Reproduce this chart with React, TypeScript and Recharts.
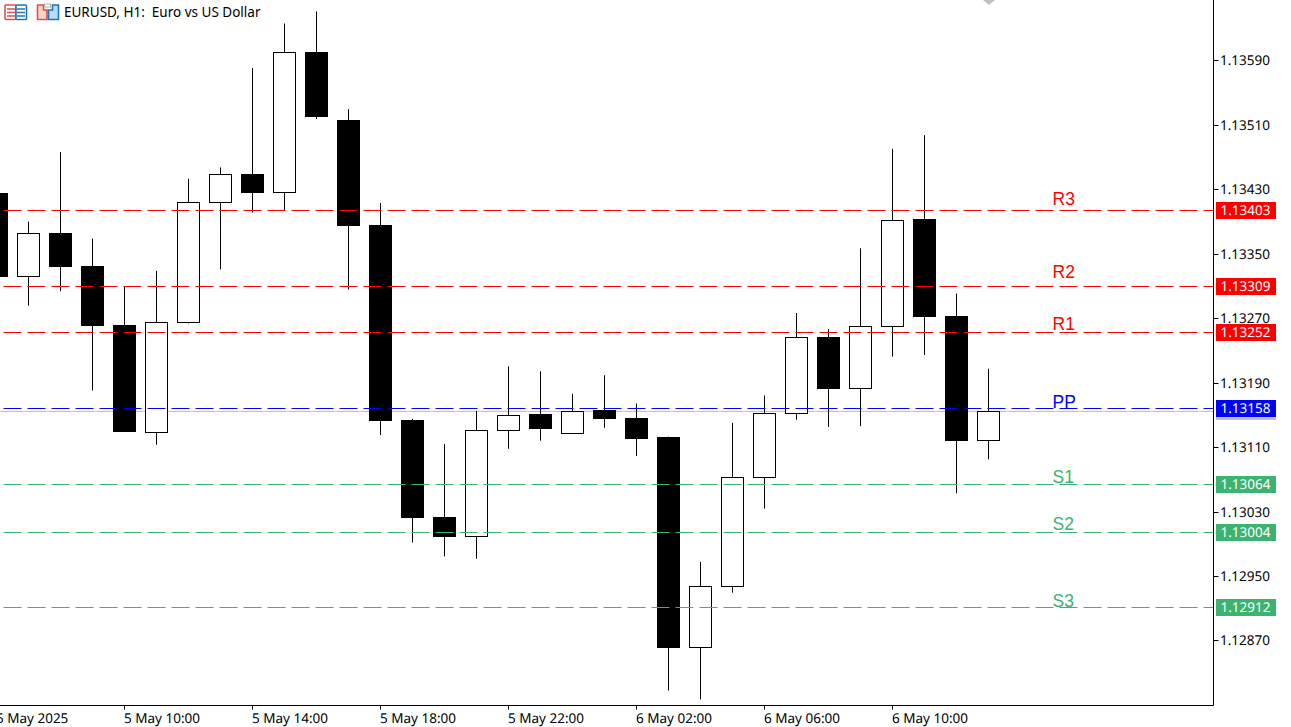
// App.tsx - EURUSD H1 candlesticks with pivot levels
import React from 'react';
import { ComposedChart, Bar, XAxis, YAxis, CartesianGrid, ReferenceLine, ReferenceDot } from 'recharts';

const times = [
  '5 May 2025', '5 May 07:00', '5 May 08:00', '5 May 09:00', '5 May 10:00', '5 May 11:00', '5 May 12:00', '5 May 13:00',
  '5 May 14:00', '5 May 15:00', '5 May 16:00', '5 May 17:00', '5 May 18:00', '5 May 19:00', '5 May 20:00', '5 May 21:00',
  '5 May 22:00', '5 May 23:00', '6 May 00:00', '6 May 01:00', '6 May 02:00', '6 May 03:00', '6 May 04:00', '6 May 05:00',
  '6 May 06:00', '6 May 07:00', '6 May 08:00', '6 May 09:00', '6 May 10:00', '6 May 11:00', '6 May 12:00', '6 May 13:00',
  '6 May 14:00', '6 May 15:00', '6 May 16:00', '6 May 17:00', '6 May 18:00', '6 May 19:00',
];

const opens = [
  1.13424, 1.13321, 1.13374, 1.13334, 1.13261, 1.13128, 1.13264, 1.13413, 1.13447, 1.13425, 1.13598,
  1.13514, 1.13384, 1.13143, 1.13023, 1.13, 1.13131, 1.1315, 1.13127, 1.13155, 1.13146, 1.13122,
  1.12862, 1.12938, 1.13073, 1.13152, 1.13246, 1.13183, 1.13259, 1.13391, 1.13272, 1.13118,
];
const highs = [
  1.13424, 1.13389, 1.13475, 1.13368, 1.13309, 1.13328, 1.13442, 1.13456, 1.13579, 1.13634, 1.13649,
  1.13528, 1.13412, 1.13145, 1.13114, 1.13155, 1.1321, 1.13204, 1.13176, 1.13199, 1.13164, 1.13123,
  1.12968, 1.1314, 1.13174, 1.13276, 1.13256, 1.13356, 1.13479, 1.13496, 1.133, 1.13207,
];
const lows = [
  1.13321, 1.13285, 1.13303, 1.1318, 1.13129, 1.13113, 1.13263, 1.1333, 1.134, 1.13403, 1.13516,
  1.13305, 1.13125, 1.12992, 1.12975, 1.12972, 1.13108, 1.13118, 1.13127, 1.13134, 1.13099, 1.12809,
  1.12798, 1.1293, 1.13034, 1.13144, 1.13135, 1.13136, 1.13222, 1.13224, 1.13053, 1.13095,
];
const closes = [
  1.13321, 1.13374, 1.13334, 1.1326, 1.13129, 1.13264, 1.13413, 1.13447, 1.13425, 1.13598, 1.13519,
  1.13384, 1.13143, 1.13023, 1.13, 1.13131, 1.13149, 1.13133, 1.13154, 1.13145, 1.13121, 1.12862,
  1.12938, 1.13073, 1.13152, 1.13246, 1.13183, 1.13259, 1.1339, 1.13272, 1.13118, 1.13154,
];

const priceTicks = [1.1359, 1.1351, 1.1343, 1.1335, 1.1327, 1.1319, 1.1311, 1.1303, 1.1295, 1.1287];
const timeTicks = ['5 May 2025', '5 May 10:00', '5 May 14:00', '5 May 18:00', '5 May 22:00', '6 May 02:00', '6 May 06:00', '6 May 10:00'];

const levelNames = ['R3', 'R2', 'R1', 'PP', 'S1', 'S2', 'S3'];
const levelPrices = [1.13403, 1.13309, 1.13252, 1.13158, 1.13064, 1.13004, 1.12912];
const levelTextPrices = [1.1341, 1.13319, 1.13255, 1.13158, 1.13066, 1.13007, 1.12912];
const levelColors = ['#ff0000', '#ff0000', '#ff0000', '#0000ff', '#3cb371', '#3cb371', '#3cb371'];
const levelLineColors = ['#ff0000', '#ff0000', '#ff0000', '#0000ff', '#3cb371', '#3cb371', '#52a878'];
const levelLabelTime = '6 May 15:00';
const bidPrice = 1.131542;

const data = times.map((t, i) => ({ t, open: opens[i], high: highs[i], low: lows[i], close: closes[i] }));

const FONT = '"Noto Sans", sans-serif';

const Candle = (props: any) => {
  const { x, y, width, height, payload } = props;
  if (payload.open === undefined || !height) return null;
  const cx = x + width / 2;
  // y and height span low..high, so body edges come from the bar's own scale
  const toY = (v: number) => y + ((payload.high - v) / (payload.high - payload.low)) * height;
  const top = Math.floor(toY(Math.max(payload.open, payload.close))) + 0.5;
  const bottom = Math.floor(toY(Math.min(payload.open, payload.close))) + 0.5;
  const up = payload.close >= payload.open;
  return (
    <g>
      <line x1={cx} x2={cx} y1={y} y2={y + height} stroke="#000" strokeWidth={1} />
      <rect x={cx - 11} y={top} width={22} height={bottom - top} fill={up ? '#fff' : '#000'} stroke="#000" strokeWidth={1} />
    </g>
  );
};

const LevelLine = (props: any) => {
  const { x1, x2, y1, stroke, strokeDasharray, strokeDashoffset } = props;
  const y = Math.floor(y1) + 0.5;
  return <line x1={x1} x2={x2} y1={y} y2={y} stroke={stroke} strokeDasharray={strokeDasharray} strokeDashoffset={strokeDashoffset} />;
};

const LevelText = (name: string, color: string) => (props: any) => (
  <text x={props.cx} y={props.cy} fill={color} fontFamily="Liberation Sans, Arial, sans-serif" fontSize={17.5}>
    {name}
  </text>
);

const PriceTick = (props: any) => {
  const { x, y, payload } = props;
  return (
    <g>
      <line x1={x} x2={x + 5} y1={Math.floor(y) + 0.5} y2={Math.floor(y) + 0.5} stroke="#000" />
      <text x={x + 6.5} y={Math.floor(y) + 5} fill="#000" fontFamily={FONT} fontSize={13.5} textRendering="geometricPrecision">
        {payload.value.toFixed(5)}
      </text>
    </g>
  );
};

const LevelTick = (props: any) => {
  const { x, y, payload } = props;
  const li = levelPrices.indexOf(payload.value);
  const top = Math.floor(y) - 8;
  if (li < 0) return <rect x={x + 2.5} y={top} width={60} height={17} fill="#c0c0c0" />;
  return (
    <g>
      <rect x={x + 2.5} y={top} width={60} height={17} fill={levelColors[li]} />
      <text x={x + 7} y={top + 13} fill="#fff" fontFamily={FONT} fontSize={13.5} textRendering="geometricPrecision">
        {payload.value.toFixed(5)}
      </text>
    </g>
  );
};

const TimeTick = (props: any) => {
  const { x, y, payload } = props;
  return (
    <g>
      <line x1={x} x2={x} y1={y} y2={y + 4} stroke="#000" />
      <text x={x - 0.5} y={y + 17} fill="#000" fontFamily={FONT} fontSize={13.5} textRendering="geometricPrecision">
        {payload.value}
      </text>
    </g>
  );
};

const Icons = () => (
  <svg width={64} height={24} style={{ position: 'absolute', left: 0, top: 0 }}>
    <rect x={5} y={5} width={11} height={14.5} rx={1} fill="#fff" stroke="#e05050" strokeWidth={1.6} />
    <rect x={16} y={5} width={10.5} height={14.5} rx={1} fill="#fff" stroke="#1f78b4" strokeWidth={1.6} />
    <path d="M7 9h8M7 12.5h8M7 16h8" stroke="#e05050" strokeWidth={1.6} />
    <path d="M17 9h8M17 12.5h8M17 16h8" stroke="#1f78b4" strokeWidth={1.6} />
    <path d="M37.5 5h6v5h3.5v9.5h-9.5z" fill="#fdd5c8" stroke="#e05050" strokeWidth={1.6} />
    <path d="M48.5 19.5v-9.5h4v-5h6v14.5z" fill="#b8dcf5" stroke="#1f78b4" strokeWidth={1.6} />
    <rect x={44.5} y={4} width={6} height={3} fill="#fff" stroke="#b0b0b0" />
  </svg>
);

export default function App() {
  return (
    <div style={{ position: 'absolute', left: 0, top: 0, width: 1291, height: 727, overflow: 'hidden', background: '#fff' }}>
      <ComposedChart
        width={1291}
        height={727}
        data={data}
        margin={{ top: 0, right: 0, bottom: 0, left: -19.5 }}
      >
        <XAxis
          dataKey="t"
          ticks={timeTicks}
          interval={0}
          height={21.5}
          padding={{ left: 0, right: 17 }}
          axisLine={{ stroke: '#000' }}
          tickLine={false}
          tickSize={0}
          tickMargin={0}
          tick={<TimeTick />}
        />
        {/* the terminal's printed ticks run on a slightly different step than its level prices */}
        <YAxis
          yAxisId="prices"
          orientation="right"
          width={77.5}
          domain={[1.127899, 1.136657]}
          allowDataOverflow
          ticks={priceTicks}
          interval={0}
          axisLine={{ stroke: '#000' }}
          tickLine={false}
          tickSize={0}
          tickMargin={0}
          tick={<PriceTick />}
        />
        <YAxis
          yAxisId="levels"
          orientation="right"
          mirror
          domain={[1.127905, 1.136631]}
          allowDataOverflow
          ticks={[bidPrice, ...levelPrices]}
          interval={0}
          axisLine={false}
          tickLine={false}
          tickSize={0}
          tickMargin={0}
          tick={<LevelTick />}
        />
        <CartesianGrid yAxisId="levels" vertical={false} horizontalValues={[bidPrice]} stroke="#c0c0c0" />
        <Bar
          yAxisId="levels"
          dataKey={(d: any) => (d.open === undefined ? null : [d.low, d.high])}
          barSize={22}
          shape={<Candle />}
          isAnimationActive={false}
        />
        {levelPrices.map((p, i) => (
          <ReferenceLine
            key={levelNames[i]}
            yAxisId="levels"
            y={p}
            stroke={levelLineColors[i]}
            strokeDasharray="18 6"
            strokeDashoffset={8}
            shape={<LevelLine />}
          />
        ))}
        {levelNames.map((n, i) => (
          <ReferenceDot
            key={n}
            yAxisId="levels"
            x={levelLabelTime}
            y={levelTextPrices[i]}
            r={0}
            shape={LevelText(n, levelColors[i])}
          />
        ))}
      </ComposedChart>
      <Icons />
      <div
        style={{
          position: 'absolute',
          left: 64,
          top: 3,
          fontFamily: FONT,
          fontSize: 13.5,
          whiteSpace: 'pre',
          color: '#000',
          lineHeight: '18px',
        }}
      >
        {'EURUSD, H1:  Euro vs US Dollar'}
      </div>
      <svg width={12} height={6} style={{ position: 'absolute', left: 983, top: 0 }}>
        <path d="M0 0h12l-6 5z" fill="#c0c0c0" />
      </svg>
    </div>
  );
}
